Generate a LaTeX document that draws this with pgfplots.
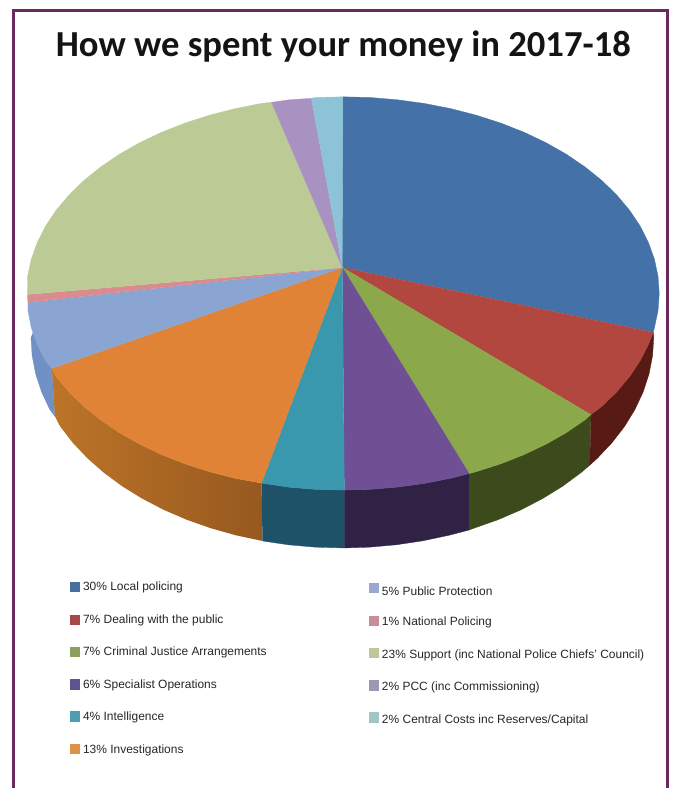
\documentclass[border=0pt]{standalone}
\usepackage{fontspec}
\setmainfont{Liberation Sans}
\newfontfamily\titlefont{Carlito}
\usepackage{pgfplots}
\pgfplotsset{compat=1.18}
% top faces
\definecolor{cLocal}{HTML}{4472A8}
\definecolor{cDealing}{HTML}{B2473F}
\definecolor{cJustice}{HTML}{8BA84A}
\definecolor{cSpecial}{HTML}{6F5094}
\definecolor{cIntel}{HTML}{3A98AE}
\definecolor{cInvest}{HTML}{E08336}
\definecolor{cProtect}{HTML}{8AA5D2}
\definecolor{cNational}{HTML}{D98B90}
\definecolor{cSupport}{HTML}{BCCB95}
\definecolor{cPCC}{HTML}{A792C2}
\definecolor{cCentral}{HTML}{8CC3D6}
% side walls
\definecolor{sDealing}{HTML}{581A14}
\definecolor{sJustice}{HTML}{3D4A1B}
\definecolor{sSpecial}{HTML}{2F2244}
\definecolor{sIntel}{HTML}{1D5268}
\definecolor{sInvestA}{HTML}{BC7428}
\definecolor{sInvestB}{HTML}{97591F}
\definecolor{sProtect}{HTML}{7190C4}
\definecolor{frame}{HTML}{6B2A5E}
% key swatches
\definecolor{kA}{HTML}{4A6F9F}
\definecolor{kB}{HTML}{A8474A}
\definecolor{kC}{HTML}{8E9F5C}
\definecolor{kD}{HTML}{5E5590}
\definecolor{kE}{HTML}{4D9DB3}
\definecolor{kF}{HTML}{DE9148}
\definecolor{kG}{HTML}{9AA7CF}
\definecolor{kH}{HTML}{C98C98}
\definecolor{kI}{HTML}{BFC79A}
\definecolor{kJ}{HTML}{9C98B4}
\definecolor{kK}{HTML}{9FC7C5}
\tikzset{
  wedge/.style={draw=#1, fill=#1, line width=0.3pt},
  lab/.style={anchor=west, inner sep=0pt, font=\fontsize{12bp}{13bp}\selectfont, text=black!85},
}
\pgfplotsset{
  key/.style={only marks, mark=square*, mark size=4.6bp, mark options={draw=#1, fill=#1}},
}
\begin{document}
\begin{tikzpicture}
\begin{axis}[
  width=675bp, height=789bp, scale only axis,
  xmin=0, xmax=675, ymin=0, ymax=789, y dir=reverse,
  axis lines=none, clip=false,
]
% reserve the whole page
\path (axis cs:0,0) rectangle (axis cs:675,789);
% page frame, open at the foot
\addplot[draw=frame, line width=3bp] coordinates {(14,789) (14,11) (669,11) (669,789)};

% ---- side walls of the disc ----
\addplot[wedge=sProtect] coordinates {(33,333) (37.3,345) (45.6,361.4) (52,369) (55,417) (49.8,410.2) (41.6,392.6) (35.7,374.6) (32.2,356.4) (31,338)};
\addplot[draw=none, left color=sInvestA, right color=sInvestB] coordinates {(52,369) (56.2,377.3) (69,392.5) (83.8,407) (100.7,420.6) (119.3,433.3) (139.7,444.9) (161.7,455.4) (185,464.6) (209.5,472.5) (235.1,479.1) (262,484) (263,542) (236.3,536.3) (211.1,529.2) (187,520.7) (164,510.8) (142.5,499.6) (122.4,487.2) (104,473.6) (87.4,459) (72.8,443.5) (60.2,427.2) (55,417)};
\addplot[wedge=sIntel] coordinates {(262,484) (288.5,488) (315.9,490.3) (345,491) (345,549) (315.8,548.2) (288.8,545.8) (263,542)};
\addplot[wedge=sSpecial] coordinates {(345,491) (371.1,490.3) (398.5,488) (425.5,484.3) (451.9,479.1) (470,474.5) (470,531) (449.7,536.3) (423.8,541.8) (397.2,545.8) (370.2,548.2) (345,549)};
\addplot[wedge=sJustice] coordinates {(470,474.5) (477.5,472.5) (502,464.6) (525.3,455.4) (547.3,444.9) (567.7,433.3) (592,415.5) (591,466) (582,473.6) (563.6,487.2) (543.5,499.6) (522,510.8) (499,520.7) (474.9,529.2) (470,531)};
\addplot[wedge=sDealing] coordinates {(592,415.5) (603.2,407) (618,392.5) (630.8,377.3) (641.4,361.4) (649.7,345) (654.5,333) (655,338) (653.8,356.4) (650.3,374.6) (644.4,392.6) (636.2,410.2) (625.8,427.2) (613.2,443.5) (598.6,459) (591,466)};

% ---- top face, clockwise from twelve o'clock ----
\addplot[wedge=cLocal] coordinates {(343,268) (343.5,97) (371.1,97.7) (398.5,100) (425.5,103.7) (451.9,108.9) (477.5,115.5) (502,123.4) (525.3,132.6) (547.3,143.1) (567.7,154.7) (586.3,167.4) (603.2,181) (618,195.5) (630.8,210.7) (641.4,226.6) (649.7,243) (655.7,259.8) (659.3,276.8) (660.5,294) (659.3,311.2) (655.7,328.2) (654.5,333)};
\addplot[wedge=cDealing] coordinates {(343,268) (654.5,333) (649.7,345) (641.4,361.4) (630.8,377.3) (618,392.5) (603.2,407) (592,415.5)};
\addplot[wedge=cJustice] coordinates {(343,268) (592,415.5) (586.3,420.6) (567.7,433.3) (547.3,444.9) (525.3,455.4) (502,464.6) (477.5,472.5) (470,474.5)};
\addplot[wedge=cSpecial] coordinates {(343,268) (470,474.5) (451.9,479.1) (425.5,484.3) (398.5,488) (371.1,490.3) (345,491)};
\addplot[wedge=cIntel] coordinates {(343,268) (345,491) (315.9,490.3) (288.5,488) (262,484)};
\addplot[wedge=cInvest] coordinates {(343,268) (262,484) (235.1,479.1) (209.5,472.5) (185,464.6) (161.7,455.4) (139.7,444.9) (119.3,433.3) (100.7,420.6) (83.8,407) (69,392.5) (56.2,377.3) (52,369)};
\addplot[wedge=cProtect] coordinates {(343,268) (52,369) (45.6,361.4) (37.3,345) (31.3,328.2) (28,311.2) (28,303)};
\addplot[wedge=cNational] coordinates {(343,268) (28,303) (27.5,295)};
\addplot[wedge=cSupport] coordinates {(343,268) (27.5,295) (27.7,276.8) (31.3,259.8) (37.3,243) (45.6,226.6) (56.2,210.7) (69,195.5) (83.8,181) (100.7,167.4) (119.3,154.7) (139.7,143.1) (161.7,132.6) (185,123.4) (209.5,115.5) (235.1,108.9) (261.5,103.7) (272,102.5)};
\addplot[wedge=cPCC] coordinates {(343,268) (272,102.5) (290,100) (312,98.5)};
\addplot[wedge=cCentral] coordinates {(343,268) (312,98.5) (315.9,97.7) (343.5,97)};

% ---- key, left column ----
\addplot[key=kA] coordinates {(74.5,588)};
\addplot[key=kB] coordinates {(74.5,620.5)};
\addplot[key=kC] coordinates {(74.5,653)};
\addplot[key=kD] coordinates {(74.5,685.5)};
\addplot[key=kE] coordinates {(74.5,717.5)};
\addplot[key=kF] coordinates {(74.5,750)};
% ---- key, right column ----
\addplot[key=kG] coordinates {(374.5,589)};
\addplot[key=kH] coordinates {(374.5,621.5)};
\addplot[key=kI] coordinates {(374.5,654)};
\addplot[key=kJ] coordinates {(374.5,686.5)};
\addplot[key=kK] coordinates {(374.5,718.5)};

\node[lab] at (axis cs:83,589) {30\% Local policing};
\node[lab] at (axis cs:83,622) {7\% Dealing with the public};
\node[lab] at (axis cs:83,654) {7\% Criminal Justice Arrangements};
\node[lab] at (axis cs:83,687) {6\% Specialist Operations};
\node[lab] at (axis cs:83,719) {4\% Intelligence};
\node[lab] at (axis cs:83,752) {13\% Investigations};
\node[lab] at (axis cs:382.5,592) {5\% Public Protection};
\node[lab] at (axis cs:382.5,624) {1\% National Policing};
\node[lab] at (axis cs:382.5,657) {23\% Support (inc National Police Chiefs’ Council)};
\node[lab] at (axis cs:382.5,689) {2\% PCC (inc Commissioning)};
\node[lab] at (axis cs:382.5,722) {2\% Central Costs inc Reserves/Capital};

\node[anchor=center, inner sep=0pt, text=black!92, font=\titlefont\bfseries\fontsize{36.7bp}{44bp}\selectfont] at (axis cs:344,47) {How we spent your money in 2017-18};
\end{axis}
\end{tikzpicture}
\end{document}
